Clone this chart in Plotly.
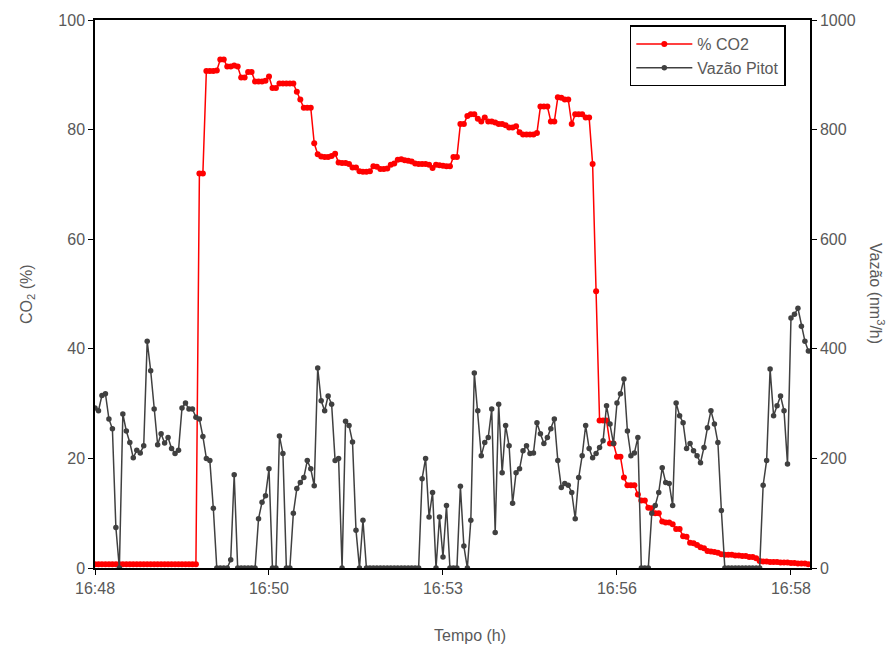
import plotly.graph_objects as go

# time in seconds after 16:48:00, one sample every 3 s
n_samples = 206
time_s = [3 * i for i in range(n_samples)]

tick_seconds = [0, 150, 300, 450, 600]
tick_labels = ["16:48", "16:50", "16:53", "16:56", "16:58"]
left_ticks = [0, 20, 40, 60, 80, 100]
right_ticks = [0, 200, 400, 600, 800, 1000]

co2 = [
    0.7, 0.7, 0.7, 0.7, 0.7, 0.7, 0.7, 0.7, 0.7, 0.7,
    0.7, 0.7, 0.7, 0.7, 0.7, 0.7, 0.7, 0.7, 0.7, 0.7,
    0.7, 0.7, 0.7, 0.7, 0.7, 0.7, 0.7, 0.7, 0.7, 0.7,
    72.0, 72.0, 90.7, 90.7, 90.7, 90.8, 92.8, 92.8, 91.5, 91.5,
    91.7, 91.5, 89.5, 89.5, 90.5, 90.5, 88.8, 88.8, 88.8, 88.9,
    89.7, 87.6, 87.6, 88.4, 88.4, 88.4, 88.4, 88.4, 86.9, 85.5,
    84.0, 84.0, 84.0, 77.5, 75.5, 75.1, 75.0, 75.0, 75.2, 75.6,
    74.0, 73.9, 73.9, 73.7, 73.1, 73.1, 72.4, 72.3, 72.3, 72.4,
    73.3, 73.2, 72.8, 72.8, 72.9, 73.6, 73.8, 74.5, 74.6, 74.4,
    74.3, 74.2, 73.8, 73.7, 73.7, 73.7, 73.6, 73.0, 73.6, 73.5,
    73.4, 73.3, 73.3, 75.0, 75.0, 81.0, 81.0, 82.5, 82.8, 82.8,
    82.0, 81.5, 82.2, 81.5, 81.5, 81.3, 81.0, 81.0, 80.8, 80.4,
    80.4, 80.6, 79.5, 79.1, 79.1, 79.1, 79.1, 79.4, 84.2, 84.2,
    84.2, 81.5, 81.5, 85.9, 85.8, 85.5, 85.5, 81.0, 82.8, 82.8,
    82.8, 82.2, 82.2, 73.7, 50.5, 26.9, 26.9, 26.9, 22.7, 22.7,
    20.3, 20.3, 16.5, 15.1, 15.1, 15.1, 13.4, 12.3, 12.3, 11.0,
    10.9, 10.0, 10.0, 8.5, 8.3, 8.3, 8.0, 7.1, 7.1, 5.8,
    5.7, 4.6, 4.5, 4.2, 3.8, 3.6, 3.1, 3.0, 2.9, 2.8,
    2.5, 2.4, 2.4, 2.4, 2.3, 2.3, 2.2, 2.2, 2.0, 2.0,
    1.8, 1.3, 1.2, 1.2, 1.1, 1.1, 1.1, 1.0, 1.0, 1.0,
    0.9, 0.9, 0.8, 0.8, 0.8, 0.7,
]

vazao = [
    292, 287, 315, 318, 272, 254, 74, 0, 281, 250,
    229, 201, 215, 210, 223, 414, 360, 290, 225, 245,
    228, 238, 218, 209, 215, 292, 301, 290, 290, 275,
    272, 240, 200, 196, 109, 0, 0, 0, 0, 15,
    170, 0, 0, 0, 0, 0, 0, 90, 120, 132,
    181, 0, 0, 241, 209, 0, 0, 100, 145, 156,
    165, 196, 181, 150, 365, 305, 287, 314, 299, 196,
    200, 0, 268, 260, 230, 69, 0, 87, 0, 0,
    0, 0, 0, 0, 0, 0, 0, 0, 0, 0,
    0, 0, 0, 0, 163, 200, 93, 138, 0, 93,
    20, 114, 0, 0, 0, 149, 40, 0, 87, 356,
    287, 205, 229, 238, 290, 65, 299, 174, 260, 223,
    118, 174, 181, 214, 223, 209, 210, 265, 245, 227,
    238, 254, 272, 196, 147, 154, 151, 138, 90, 165,
    205, 260, 218, 201, 209, 220, 232, 296, 263, 227,
    301, 318, 345, 250, 205, 210, 238, 0, 0, 0,
    100, 114, 138, 183, 156, 154, 114, 301, 278, 265,
    218, 227, 214, 205, 192, 220, 256, 287, 263, 229,
    105, 0, 0, 0, 0, 0, 0, 0, 0, 0,
    0, 0, 151, 196, 363, 278, 296, 314, 287, 190,
    456, 463, 474, 441, 414, 396,
]

font_family = "Liberation Sans, Arial, sans-serif"
tick_color = "#595959"

fig = go.Figure()
fig.add_trace(go.Scatter(
    x=time_s, y=co2, name="% CO2", mode="lines+markers",
    line=dict(color="#FF0000", width=1.5),
    marker=dict(color="#FF0000", size=6),
    yaxis="y", legendgroup="co2",
))
fig.add_trace(go.Scatter(
    x=time_s, y=vazao, name="Vazão Pitot", mode="lines+markers",
    line=dict(color="#404040", width=1.5),
    marker=dict(color="#404040", size=5.5),
    yaxis="y2", legendgroup="vazao",
))

axis_common = dict(
    showgrid=False, zeroline=False, showline=True, linecolor="black",
    linewidth=1.5, ticks="outside", ticklen=5, tickcolor="black",
    tickfont=dict(family=font_family, size=16, color=tick_color),
)

fig.update_layout(
    width=889, height=652,
    margin=dict(l=95, r=79, t=17, b=84),
    paper_bgcolor="white", plot_bgcolor="white",
    font=dict(family=font_family, size=16, color=tick_color),
    showlegend=True,
    xaxis=dict(range=[0, 616.4], tickvals=tick_seconds, ticktext=tick_labels,
               mirror=True, **axis_common),
    yaxis=dict(range=[0, 100], tickvals=left_ticks, **axis_common),
    yaxis2=dict(range=[0, 1000], tickvals=right_ticks, overlaying="y",
                side="right", **axis_common),
    legend=dict(
        x=0.748, y=0.99, xanchor="left", yanchor="top",
        bgcolor="white", bordercolor="black", borderwidth=1.5,
        font=dict(family=font_family, size=16, color=tick_color),
        traceorder="grouped", tracegroupgap=0, itemwidth=56,
    ),
    annotations=[
        dict(text="CO<sub>2</sub> (%)", xref="paper", yref="paper",
             x=-0.0951, y=0.5, textangle=-90, showarrow=False,
             xanchor="center", yanchor="middle",
             font=dict(family=font_family, size=16, color=tick_color)),
        dict(text="Vazão (nm<sup>3</sup>/h)", xref="paper", yref="paper",
             x=1.0937, y=0.5, textangle=90, showarrow=False,
             xanchor="center", yanchor="middle",
             font=dict(family=font_family, size=16, color=tick_color)),
        dict(text="Tempo (h)", xref="paper", yref="paper",
             x=0.524, y=-0.1234, showarrow=False,
             xanchor="center", yanchor="middle",
             font=dict(family=font_family, size=16, color=tick_color)),
    ],
)

fig.write_html("out.html")
